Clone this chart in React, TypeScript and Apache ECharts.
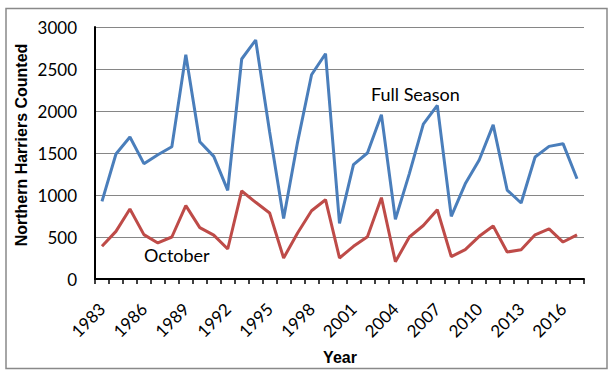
import React, { useEffect, useRef } from "react";
import * as echarts from "echarts";

const years: string[] = [
  "1983", "1984", "1985", "1986", "1987", "1988", "1989", "1990", "1991", "1992",
  "1993", "1994", "1995", "1996", "1997", "1998", "1999", "2000", "2001", "2002",
  "2003", "2004", "2005", "2006", "2007", "2008", "2009", "2010", "2011", "2012",
  "2013", "2014", "2015", "2016", "2017",
];

const fullSeason: number[] = [
  925, 1488, 1690, 1373, 1480, 1575, 2670, 1635, 1460, 1055,
  2619, 2845, 1750, 720, 1630, 2432, 2682, 662, 1361, 1500,
  1956, 710, 1255, 1843, 2067, 746, 1133, 1417, 1835, 1059,
  905, 1452, 1579, 1611, 1194,
];

const october: number[] = [
  389, 567, 833, 528, 429, 500, 873, 612, 522, 357,
  1048, 913, 786, 250, 548, 812, 944, 250, 389, 504,
  968, 205, 500, 637, 825, 266, 349, 508, 631, 321,
  349, 526, 597, 440, 526,
];

const yTicks = { min: 0, max: 3000, interval: 500 };

const seriesNames = { full: "Full Season", oct: "October" };
const axisTitles = { x: "Year", y: "Northern Harriers Counted" };

export default function App() {
  const ref = useRef<HTMLDivElement>(null);

  useEffect(() => {
    if (!ref.current) return;
    const chart = echarts.init(ref.current, undefined, { renderer: "svg" });
    const tickFont = "Lato";
    chart.setOption({
      animation: false,
      backgroundColor: "#ffffff",
      grid: { left: 95, right: 31, top: 27, bottom: 100, containLabel: false },
      xAxis: {
        type: "category",
        data: years,
        boundaryGap: true,
        axisLine: { show: true, lineStyle: { color: "#000000", width: 2 } },
        axisTick: {
          show: true,
          interval: 0,
          alignWithLabel: false,
          length: 5,
          lineStyle: { color: "#000000", width: 1.5 },
        },
        axisLabel: {
          interval: 2,
          rotate: 45,
          margin: 27,
          color: "#000000",
          fontFamily: tickFont,
          fontSize: 17,
        },
        splitLine: { show: false },
      },
      yAxis: {
        type: "value",
        min: yTicks.min,
        max: yTicks.max,
        interval: yTicks.interval,
        axisLine: { show: true, lineStyle: { color: "#000000", width: 2 } },
        axisTick: { show: false },
        axisLabel: {
          margin: 18,
          color: "#000000",
          fontFamily: tickFont,
          fontSize: 17,
          formatter: (v: number) => String(v),
        },
        splitLine: { show: true, lineStyle: { color: "#868686", width: 1 } },
      },
      series: [
        {
          name: seriesNames.full,
          type: "line",
          data: fullSeason,
          symbol: "none",
          lineStyle: { color: "#4A7EBB", width: 3 },
          itemStyle: { color: "#4A7EBB" },
          z: 3,
        },
        {
          name: seriesNames.oct,
          type: "line",
          data: october,
          symbol: "none",
          lineStyle: { color: "#BE4B48", width: 3 },
          itemStyle: { color: "#BE4B48" },
          z: 3,
        },
      ],
      graphic: [
        {
          type: "rect",
          shape: { x: 6, y: 8.5, width: 601, height: 360 },
          style: { fill: "none", stroke: "#898989", lineWidth: 1.5 },
          silent: true,
          z: 0,
        },
        {
          type: "text",
          x: 21,
          y: 145,
          rotation: Math.PI / 2,
          style: {
            text: axisTitles.y,
            fontFamily: "Liberation Sans",
            fontWeight: "bold",
            fontSize: 16,
            fill: "#000000",
            align: "center",
            verticalAlign: "middle",
          },
        },
        {
          type: "text",
          x: 340,
          y: 357.5,
          style: {
            text: axisTitles.x,
            fontFamily: "Liberation Sans",
            fontWeight: "bold",
            fontSize: 16,
            fill: "#000000",
            align: "center",
            verticalAlign: "middle",
          },
        },
        {
          type: "text",
          x: 371,
          y: 94,
          style: {
            text: seriesNames.full,
            fontFamily: "Lato",
            fontSize: 18,
            fill: "#000000",
            align: "left",
            verticalAlign: "middle",
          },
        },
        {
          type: "text",
          x: 144,
          y: 254.5,
          style: {
            text: seriesNames.oct,
            fontFamily: "Lato",
            fontSize: 18,
            fill: "#000000",
            align: "left",
            verticalAlign: "middle",
          },
        },
      ],
    });
    return () => chart.dispose();
  }, []);

  return (
    <div
      ref={ref}
      style={{ position: "absolute", left: 0, top: 0, width: 615, height: 379, background: "#fff" }}
    />
  );
}
